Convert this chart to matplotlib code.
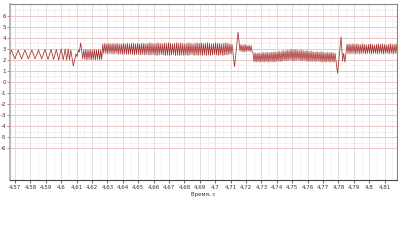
import numpy as np
import matplotlib
matplotlib.use("Agg")
import matplotlib.pyplot as plt
from matplotlib.ticker import FixedLocator

# ---- data ----
# explicit extrema of the first (slower) oscillation and transient
t_a = [4.56675, 4.56773, 4.56987, 4.57208, 4.57422, 4.57643, 4.57864, 4.58091,
       4.58305, 4.58526, 4.58734, 4.58948, 4.59143, 4.59338, 4.59506, 4.59682,
       4.59838, 4.60000, 4.60130, 4.60260, 4.60357, 4.60455, 4.60539, 4.60623,
       4.60786, 4.60961, 4.61026, 4.61110, 4.61175, 4.61266, 4.61396]
v_a = [2.55, 2.9, 2.1, 2.9, 2.1, 2.9, 2.1, 2.9,
       2.1, 2.9, 2.1, 2.95, 2.05, 2.95, 2.05, 2.95,
       2.0, 3.0, 2.0, 3.0, 2.0, 3.0, 2.0, 2.9,
       1.45, 2.55, 2.3, 2.9, 2.7, 3.55, 2.1]

# dense segments: (start, end) times with per-cycle peak / trough values
seg_b = (4.61396, 4.62630)
hi_b = [2.9, 2.95, 2.9, 2.95, 2.9, 2.95, 2.9, 2.95, 2.9]
lo_b = [2.05, 2.0, 2.05, 2.0, 2.05, 2.0, 2.05, 2.0, 2.05]

seg_c = (4.62630, 4.71156)
hi_c = [3.45, 3.5, 3.45, 3.5, 3.45, 3.5, 3.45, 3.5, 3.45, 3.45,
        3.5, 3.45, 3.5, 3.45, 3.5, 3.5, 3.45, 3.5, 3.45, 3.5,
        3.5, 3.45, 3.5, 3.55, 3.5, 3.45, 3.5, 3.55, 3.5, 3.45,
        3.55, 3.5, 3.55, 3.5, 3.45, 3.5, 3.55, 3.5, 3.55, 3.5,
        3.45, 3.5, 3.55, 3.5, 3.45, 3.5, 3.55, 3.5, 3.55, 3.5,
        3.5, 3.55, 3.5, 3.45, 3.5, 3.55, 3.5, 3.5, 3.45, 3.5,
        3.55, 3.5, 3.45, 3.4]
lo_c = [2.6, 2.6, 2.55, 2.6, 2.55, 2.55, 2.6, 2.5, 2.55, 2.5,
        2.55, 2.5, 2.5, 2.55, 2.5, 2.45, 2.5, 2.5, 2.45, 2.5,
        2.45, 2.5, 2.45, 2.45, 2.5, 2.45, 2.4, 2.45, 2.5, 2.45,
        2.4, 2.45, 2.4, 2.45, 2.5, 2.4, 2.45, 2.4, 2.45, 2.4,
        2.45, 2.4, 2.45, 2.5, 2.4, 2.45, 2.4, 2.45, 2.4, 2.45,
        2.4, 2.45, 2.4, 2.45, 2.5, 2.45, 2.4, 2.45, 2.4, 2.45,
        2.45, 2.5, 2.55, 2.6]

t_d0 = [4.71253, 4.71481, 4.71610]
v_d0 = [1.4, 4.5, 2.8]

seg_d = (4.71610, 4.72390)
hi_d = [3.4, 3.35, 3.4, 3.3, 3.35, 3.3]
lo_d = [2.75, 2.7, 2.75, 2.8, 2.75, 2.8]

seg_e = (4.72390, 4.77844)
hi_e = [2.6, 2.65, 2.6, 2.65, 2.6, 2.7, 2.65, 2.7, 2.65, 2.7,
        2.7, 2.75, 2.7, 2.8, 2.75, 2.85, 2.8, 2.9, 2.85, 2.95,
        2.9, 2.95, 2.9, 2.85, 2.9, 2.85, 2.8, 2.85, 2.75, 2.8,
        2.75, 2.7, 2.75, 2.7, 2.75, 2.7, 2.65, 2.7, 2.65, 2.7,
        2.65, 2.6]
lo_e = [1.85, 1.8, 1.85, 1.8, 1.85, 1.8, 1.85, 1.8, 1.85, 1.85,
        1.8, 1.85, 1.9, 1.85, 1.9, 1.95, 1.9, 1.95, 2.0, 1.95,
        1.9, 1.95, 2.0, 1.95, 1.9, 1.95, 1.9, 1.85, 1.9, 1.85,
        1.9, 1.85, 1.9, 1.85, 1.8, 1.85, 1.8, 1.85, 1.8, 1.85,
        1.8, 1.85]

t_f0 = [4.77942, 4.78169, 4.78266, 4.78340, 4.78420]
v_f0 = [0.8, 4.1, 1.9, 2.6, 1.8]

seg_f = (4.78494, 4.81805)
hi_f = [3.4, 3.45, 3.4, 3.45, 3.4, 3.45, 3.4, 3.4, 3.45, 3.4,
        3.35, 3.4, 3.45, 3.4, 3.35, 3.4, 3.45, 3.4, 3.45, 3.4,
        3.35, 3.4, 3.45, 3.4, 3.4, 3.45]
lo_f = [2.6, 2.55, 2.6, 2.6, 2.55, 2.6, 2.55, 2.6, 2.6, 2.55,
        2.6, 2.6, 2.55, 2.6, 2.6, 2.55, 2.6, 2.6, 2.55, 2.6,
        2.6, 2.55, 2.6, 2.55, 2.6, 2.6]

x_ticks = [4.57, 4.58, 4.59, 4.60, 4.61, 4.62, 4.63, 4.64, 4.65, 4.66, 4.67, 4.68,
           4.69, 4.70, 4.71, 4.72, 4.73, 4.74, 4.75, 4.76, 4.77, 4.78, 4.79, 4.80, 4.81]
x_labels = ["4,57", "4,58", "4,59", "4,6", "4,61", "4,62", "4,63", "4,64", "4,65",
            "4,66", "4,67", "4,68", "4,69", "4,7", "4,71", "4,72", "4,73", "4,74",
            "4,75", "4,76", "4,77", "4,78", "4,79", "4,8", "4,81"]
y_ticks = [6, 5, 4, 3, 2, 1, 0, -1, -2, -3, -4, -5, -6]
y_labels = ["6", "5", "4", "3", "2", "1", "0", "-1", "-2", "-3", "-4", "-5", "-6"]
x_label = "Время, с"


def seg_points(seg, hi, lo):
    vals = []
    for h, l in zip(hi, lo):
        vals += [h, l]
    ts = np.linspace(seg[0], seg[1], len(vals) + 1)[1:]
    return list(ts), vals


t_all, v_all = list(t_a), list(v_a)
for part in [(seg_b, hi_b, lo_b), (seg_c, hi_c, lo_c)]:
    ts, vs = seg_points(*part)
    t_all += ts; v_all += vs
t_all += t_d0; v_all += v_d0
for part in [(seg_d, hi_d, lo_d), (seg_e, hi_e, lo_e)]:
    ts, vs = seg_points(*part)
    t_all += ts; v_all += vs
t_all += t_f0; v_all += v_f0
ts, vs = seg_points(seg_f, hi_f, lo_f)
t_all += ts; v_all += vs

fig = plt.figure(figsize=(4.0, 2.48), dpi=100)
ax = fig.add_axes([0.025, 0.274, 0.9675, 0.710])
ax.set_xlim(4.56675, 4.8180)
ax.set_ylim(-8.88, 7.07)

# grid
for y in np.arange(-5.5, 7.0, 1.0):
    ax.axhline(y, color="#dddddd", lw=0.5, ls=(0, (1, 1)), zorder=0)
for y in y_ticks:
    ax.axhline(y, color="#ecbcbc", lw=0.6, zorder=0)
for x in x_ticks:
    ax.axvline(x, color="#dadada", lw=0.6, zorder=0)
    ax.axvline(x + 0.005, color="#e0e0e0", lw=0.5, ls=(0, (1, 1)), zorder=0)

ax.plot(t_all, v_all, color="#a83030", lw=0.55, zorder=3)

ax.xaxis.set_major_locator(FixedLocator(x_ticks))
ax.set_xticklabels(x_labels)
ax.yaxis.set_major_locator(FixedLocator(y_ticks))
ax.set_yticklabels(y_labels)
ax.tick_params(axis="x", labelsize=4, length=2, width=0.5, pad=1.5, colors="#333333")
ax.tick_params(axis="y", labelsize=4, length=2, width=0.5, pad=0.8, colors="#333333")
ax.tick_params(axis="y", color="#c04040")
ax.set_xlabel(x_label, fontsize=4, labelpad=1.5, color="#333333")

for s in ["top", "right"]:
    ax.spines[s].set_color("#888888")
    ax.spines[s].set_linewidth(0.8)
ax.spines["left"].set_color("#aaaaaa")
ax.spines["left"].set_linewidth(1.2)
ax.spines["bottom"].set_color("#444444")
ax.spines["bottom"].set_linewidth(0.8)

fig.savefig("out.png", dpi=100)
